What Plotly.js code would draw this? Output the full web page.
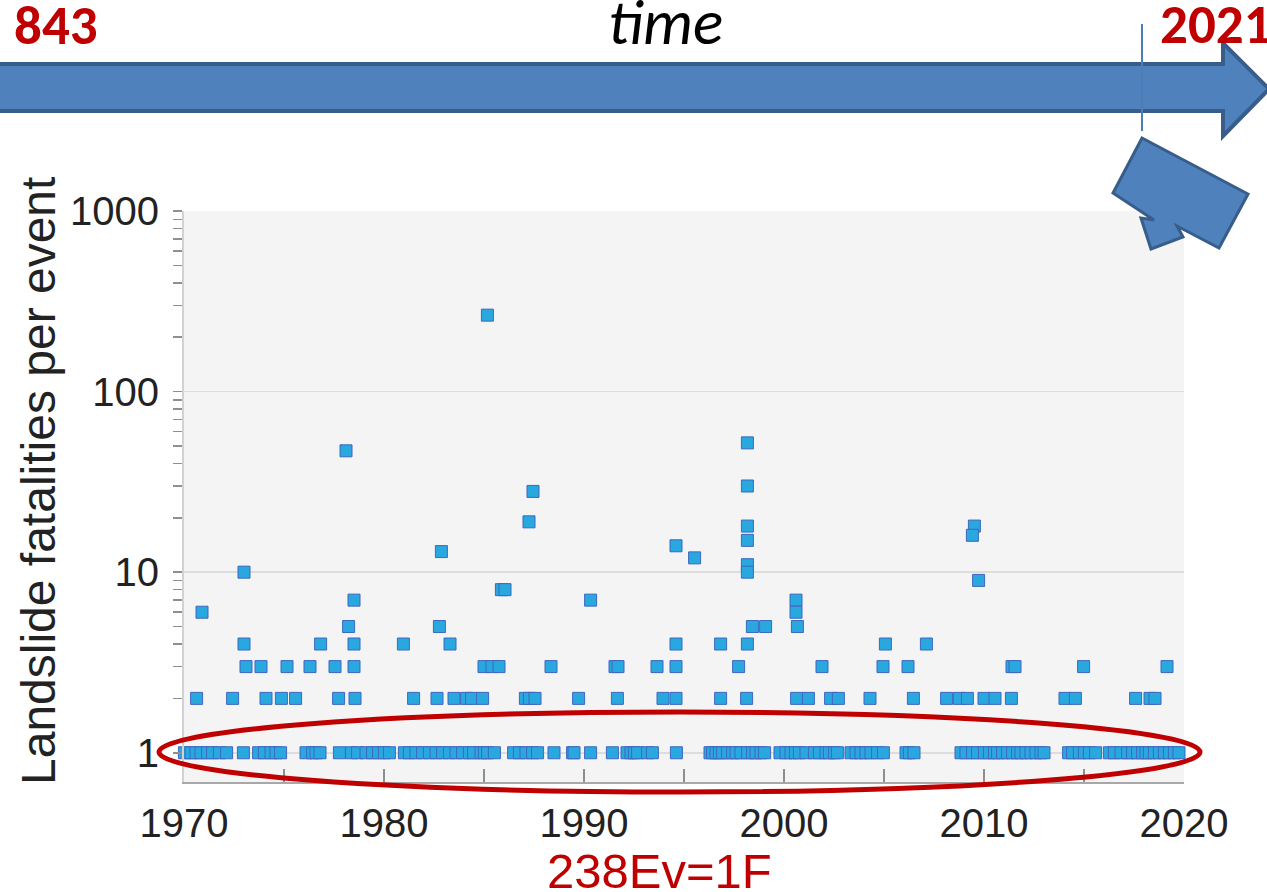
<!DOCTYPE html>
<html>
<head>
<meta charset="utf-8">
<script src="https://cdn.plot.ly/plotly-3.0.1.min.js"></script>
<style>
html,body{margin:0;padding:0;background:#fff;}
#chart{width:1267px;height:892px;}
</style>
</head>
<body>
<div id="chart"></div>
<script>
// ---------- DATA ----------
// Events with exactly one fatality (decimal year)
const oneFatalityYears = [
  1970.02, 1970.35, 1970.6, 1970.85, 1971.18, 1971.43, 1971.77, 1972.13,
  1972.97,
  1973.73, 1974.02, 1974.35, 1974.6, 1974.83,
  1976.1, 1976.43, 1976.6, 1976.8,
  1977.77,
  1978.38, 1978.68, 1979.1, 1979.43, 1979.73, 1980.02, 1980.27,
  1981.02, 1981.27, 1981.6, 1981.93,
  1982.27, 1982.6, 1982.93, 1983.27, 1983.6, 1983.93, 1984.27, 1984.48, 1984.85, 1985.02, 1985.18, 1985.52,
  1986.48, 1986.77, 1987.1, 1987.43, 1987.68,
  1988.5,
  1989.43, 1989.5,
  1990.33,
  1991.42,
  1992.15, 1992.35, 1992.52, 1992.68, 1993.18, 1993.42,
  1994.62,
  1996.3, 1996.43, 1996.6, 1996.77, 1996.93, 1997.18, 1997.43, 1997.6, 1997.85, 1998.18, 1998.43, 1998.6, 1998.85, 1999.03,
  1999.8, 2000.1, 2000.35, 2000.57, 2000.77, 2001.1, 2001.52, 2001.77, 2002.1, 2002.27, 2002.52, 2002.67,
  2003.35, 2003.6, 2003.85, 2004.1, 2004.35, 2004.68, 2004.97,
  2006.1, 2006.27, 2006.5,
  2008.85, 2009.1, 2009.43, 2009.68, 2010.02, 2010.27, 2010.52, 2010.68, 2010.93, 2011.18, 2011.43, 2011.68, 2011.85, 2012.1, 2012.35, 2012.6, 2012.85, 2013.0,
  2014.23, 2014.43, 2014.77, 2015.02, 2015.27, 2015.58,
  2016.27, 2016.52, 2016.85, 2017.18, 2017.43, 2017.68, 2017.93, 2018.1, 2018.27, 2018.52, 2018.77, 2019.02, 2019.27, 2019.52, 2019.75
];

// Events with more than one fatality
const multiYears = [
  1985.17, 1998.17, 1978.1, 1998.17, 1987.45, 1987.25, 1998.17, 2009.52, 2009.42, 1998.17,
  1994.6, 1982.87, 1995.53, 1998.17, 1973.0, 1998.17, 2009.73, 1985.87, 1986.05,
  1978.5, 1990.33, 2000.6, 1970.9, 2000.6,
  1978.23, 1982.77, 1998.42, 1999.08, 2000.67,
  1973.0, 1976.83, 1978.5, 1980.97, 1983.3, 1994.6, 1996.83, 1998.17, 2005.07, 2007.12,
  1973.1, 1973.85, 1975.15, 1976.3, 1977.55, 1978.5, 1985.0, 1985.4, 1985.75, 1988.35, 1991.55, 1991.7,
  1993.65, 1994.6, 1997.73, 2001.9, 2004.95, 2006.2, 2011.4, 2011.55, 2014.98, 2019.15,
  1970.63, 1972.43, 1974.1, 1974.87, 1975.58, 1977.73, 1978.55, 1981.48, 1982.65, 1983.5,
  1984.13, 1984.38, 1984.93, 1987.07, 1987.27, 1987.55, 1989.73, 1991.67, 1993.95, 1994.6,
  1996.83, 1998.13, 2000.63, 2001.22, 2002.33, 2002.72, 2004.3, 2006.47, 2008.13, 2008.77,
  2009.17, 2010.0, 2010.55, 2011.37, 2014.05, 2014.57, 2017.58, 2018.3, 2018.55
];
const multiFatalities = [
  265, 52, 47, 30, 28, 19, 18, 18, 16, 15,
  14, 13, 12, 11, 10, 10, 9, 8, 8,
  7, 7, 7, 6, 6,
  5, 5, 5, 5, 5,
  4, 4, 4, 4, 4, 4, 4, 4, 4, 4,
  3, 3, 3, 3, 3, 3, 3, 3, 3, 3, 3, 3,
  3, 3, 3, 3, 3, 3, 3, 3, 3, 3,
  2, 2, 2, 2, 2, 2, 2, 2, 2, 2,
  2, 2, 2, 2, 2, 2, 2, 2, 2, 2,
  2, 2, 2, 2, 2, 2, 2, 2, 2, 2,
  2, 2, 2, 2, 2, 2, 2, 2, 2
];

const xTickVals = [1970, 1975, 1980, 1985, 1990, 1995, 2000, 2005, 2010, 2015, 2020];
const xTickText = ['1970', '', '1980', '', '1990', '', '2000', '', '2010', '', '2020'];
const yMajorVals = [1, 10, 100, 1000];
const yMajorText = ['1', '10', '100', '1000'];
const yMinorVals = [2,3,4,5,6,7,8,9, 20,30,40,50,60,70,80,90, 200,300,400,500,600,700,800,900];

const yTitle = 'Landslide fatalities per event';
const timeLabel = 'time';
const startLabel = '843';
const endLabel = '2021';
const noteLabel = '238Ev=1F';

// ---------- LAYOUT HELPERS ----------
const W = 1267, H = 892;
const L = 184, R = 1184, T = 211, B = 782;
const PX = x => (x - L) / (R - L);
const PY = y => (B - y) / (B - T);
const path = pts => 'M ' + pts.map(p => PX(p[0]).toFixed(5) + ',' + PY(p[1]).toFixed(5)).join(' L ') + ' Z';

const allYears = oneFatalityYears.concat(multiYears);
const allFatalities = oneFatalityYears.map(() => 1).concat(multiFatalities);

const tickFont = {family: "'Liberation Sans', Arial, sans-serif", size: 40, color: '#222'};
const redFont = {family: "Carlito, Calibri, 'Open Sans', 'Liberation Sans', sans-serif", size: 55, color: '#C00000'};
const arrowFill = '#4F81BD', arrowLine = '#385D8A';
const tickGrey = '#8f8f8f';

const traces = [
  {
    type: 'scatter', mode: 'markers',
    x: allYears, y: allFatalities,
    cliponaxis: false,
    marker: {symbol: 'square', size: 12, color: '#29A8E0', line: {color: '#3F67BF', width: 1}},
    hoverinfo: 'x+y', showlegend: false
  }
];

const layout = {
  width: W, height: H,
  margin: {l: L, r: W - R, t: T, b: H - B, pad: 0},
  paper_bgcolor: '#ffffff',
  plot_bgcolor: '#f4f4f4',
  showlegend: false,
  xaxis: {
    range: [1970, 2020], tickmode: 'array', tickvals: xTickVals, ticktext: xTickText,
    ticks: 'inside', ticklen: 13, tickwidth: 2, tickcolor: tickGrey,
    showline: true, linecolor: '#a8a8a8', linewidth: 2,
    showgrid: false, zeroline: false, tickfont: tickFont, ticklabelstandoff: 5
  },
  yaxis: {
    type: 'log', range: [-0.162, 3.0], tickmode: 'array', tickvals: yMajorVals, ticktext: yMajorText,
    ticks: 'outside', ticklen: 9, tickwidth: 1.5, tickcolor: tickGrey,
    minor: {tickmode: 'array', tickvals: yMinorVals, ticks: 'outside', ticklen: 9, tickwidth: 1.5, tickcolor: tickGrey, showgrid: false},
    showline: true, linecolor: '#d2d2d2', linewidth: 2,
    showgrid: true, gridcolor: '#dddddd', gridwidth: 1.5, zeroline: false,
    tickfont: tickFont, ticklabelstandoff: 6
  },
  xaxis2: {
    overlaying: 'x', anchor: 'y2', range: [1970, 2020], tickmode: 'array', tickvals: xTickVals,
    ticks: 'outside', ticklen: 13, tickwidth: 2, tickcolor: tickGrey,
    showticklabels: false, showgrid: false, zeroline: false, showline: false
  },
  yaxis2: {
    overlaying: 'y', anchor: 'x2', type: 'log', range: [-0.162, 3.0], tickmode: 'array', tickvals: yMajorVals,
    ticks: 'inside', ticklen: 9, tickwidth: 1.5, tickcolor: tickGrey,
    minor: {tickmode: 'array', tickvals: yMinorVals, ticks: 'inside', ticklen: 9, tickwidth: 1.5, tickcolor: tickGrey, showgrid: false},
    showticklabels: false, showgrid: false, zeroline: false, showline: false
  },
  shapes: [
    // big timeline arrow
    {type: 'path', xref: 'paper', yref: 'paper', layer: 'above',
     path: path([[-10, 64], [1223, 64], [1223, 43], [1269, 89], [1223, 136], [1223, 111], [-10, 111]]),
     fillcolor: arrowFill, line: {color: arrowLine, width: 4}},
    // vertical marker line
    {type: 'line', xref: 'paper', yref: 'paper', layer: 'above',
     x0: PX(1142), x1: PX(1142), y0: PY(24), y1: PY(131), line: {color: '#4A7EBB', width: 2}},
    // small tilted arrow
    {type: 'path', xref: 'paper', yref: 'paper', layer: 'above',
     path: path([[1142, 138], [1248, 194], [1219, 248], [1177, 226], [1183, 237], [1151, 249], [1141, 218], [1154, 220], [1113, 193]]),
     fillcolor: arrowFill, line: {color: arrowLine, width: 3}},
    // red ellipse
    {type: 'circle', xref: 'paper', yref: 'paper', layer: 'above',
     x0: PX(159), x1: PX(1200), y0: PY(792), y1: PY(712),
     line: {color: '#C00000', width: 5}}
  ],
  annotations: [
    {text: yTitle, xref: 'paper', yref: 'paper', x: PX(38), y: PY(481), xanchor: 'center', yanchor: 'middle',
     textangle: -90, showarrow: false, font: {family: "'Liberation Sans', Arial, sans-serif", size: 48, color: '#222'}},
    {text: '<b>' + startLabel + '</b>', xref: 'paper', yref: 'paper', x: PX(12), y: PY(25), xanchor: 'left', yanchor: 'middle',
     showarrow: false, font: redFont},
    {text: '<b>' + endLabel + '</b>', xref: 'paper', yref: 'paper', x: PX(1158), y: PY(24), xanchor: 'left', yanchor: 'middle',
     showarrow: false, font: redFont},
    {text: '<i>' + timeLabel + '</i>', xref: 'paper', yref: 'paper', x: PX(665), y: PY(22), xanchor: 'center', yanchor: 'middle',
     showarrow: false, font: {family: "Carlito, Calibri, 'Open Sans', sans-serif", size: 63, color: '#000'}},
    {text: noteLabel, xref: 'paper', yref: 'paper', x: PX(659), y: PY(871), xanchor: 'center', yanchor: 'middle',
     showarrow: false, font: {family: "'Liberation Sans', Arial, sans-serif", size: 49, color: '#C00000'}}
  ]
};

Plotly.newPlot('chart', traces, layout, {displayModeBar: false, staticPlot: true});
</script>
</body>
</html>
